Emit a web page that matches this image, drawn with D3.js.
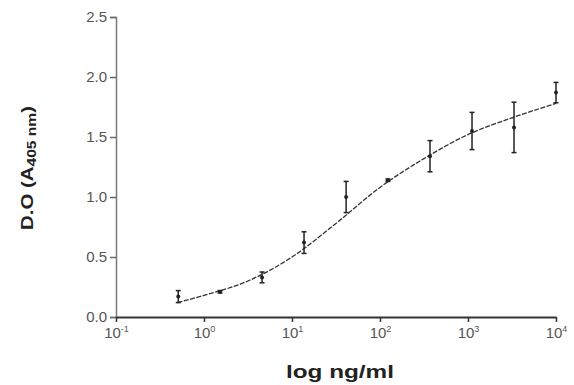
<!DOCTYPE html>
<html>
<head>
<meta charset="UTF-8">
<script src="https://d3js.org/d3.v7.min.js"></script>
<style>
  body { margin: 0; background: #fff; font-family: "Liberation Sans", Arial, sans-serif; }
  .tick text { fill: #555; font-size: 15px; font-family: "Liberation Sans", Arial, sans-serif; }
  .title { font-weight: bold; fill: #222; }
</style>
</head>
<body>
<svg width="574" height="385"></svg>
<script>
// concentrations (ng/ml), 3-fold dilutions
const conc = [0.51, 1.52, 4.57, 13.7, 41.2, 123, 370, 1111, 3333, 10000];
const od   = [0.17, 0.21, 0.33, 0.62, 1.00, 1.14, 1.34, 1.55, 1.58, 1.87];
const err  = [0.05, 0.01, 0.045, 0.09, 0.13, 0.01, 0.13, 0.155, 0.21, 0.085];
// fitted curve
const fitX = [0.5, 1, 3.16, 10, 31.6, 100, 316, 1000, 3162, 10000];
const fitY = [0.12, 0.18, 0.30, 0.50, 0.78, 1.08, 1.32, 1.52, 1.66, 1.78];
const xTicks = [-1, 0, 1, 2, 3, 4];
const yTicks = [0, 0.5, 1.0, 1.5, 2.0, 2.5];

const svg = d3.select("svg");
const x = d3.scaleLog().domain([0.1, 10000]).range([116, 556]);
const y = d3.scaleLinear().domain([0, 2.5]).range([317, 17]);

// y axis
const gy = svg.append("g").attr("transform", "translate(116,0)")
  .call(d3.axisLeft(y).tickValues(yTicks).tickFormat(d3.format(".1f")).tickSize(6).tickPadding(3));
gy.select(".domain").attr("stroke", "#777").attr("stroke-width", 1.5);
gy.selectAll(".tick line").attr("stroke", "#666").attr("stroke-width", 1.5);

// x axis
const gx = svg.append("g").attr("transform", "translate(0,317)")
  .call(d3.axisBottom(x).tickValues(xTicks.map(e => Math.pow(10, e))).tickFormat("").tickSize(5).tickSizeOuter(0));
gx.select(".domain").attr("stroke", "#333").attr("stroke-width", 2);
gx.selectAll(".tick line").attr("stroke", "#333").attr("stroke-width", 1.5);
gx.selectAll(".tick").append("text")
  .attr("y", 21).attr("text-anchor", "middle").attr("fill", "#555")
  .each(function(d) {
    const t = d3.select(this);
    t.append("tspan").text("10");
    t.append("tspan").attr("dy", -6).attr("font-size", "9px").text(Math.round(Math.log10(d)));
  });

// fit curve
const line = d3.line().x((d, i) => x(fitX[i])).y(d => y(d)).curve(d3.curveMonotoneX);
svg.append("path").datum(fitY).attr("d", line)
  .attr("fill", "none").attr("stroke", "#333").attr("stroke-width", 1.3)
  .attr("stroke-dasharray", "5,1.5");

// error bars
const g = svg.append("g").attr("stroke", "#222").attr("stroke-width", 1.5);
conc.forEach((c, i) => {
  const cx = x(c);
  g.append("line").attr("x1", cx).attr("x2", cx).attr("y1", y(od[i] - err[i])).attr("y2", y(od[i] + err[i]));
  g.append("line").attr("x1", cx - 2.5).attr("x2", cx + 2.5).attr("y1", y(od[i] - err[i])).attr("y2", y(od[i] - err[i]));
  g.append("line").attr("x1", cx - 2.5).attr("x2", cx + 2.5).attr("y1", y(od[i] + err[i])).attr("y2", y(od[i] + err[i]));
});
svg.append("g").selectAll("circle").data(conc).join("circle")
  .attr("cx", d => x(d)).attr("cy", (d, i) => y(od[i])).attr("r", 2).attr("fill", "#222");

// titles
svg.append("text").attr("class", "title")
  .attr("transform", "translate(340,378) scale(1.35,1)")
  .attr("text-anchor", "middle").attr("font-size", "18px")
  .text("log ng/ml");
const yt = svg.append("text").attr("class", "title")
  .attr("transform", "translate(33,168) rotate(-90) scale(1.2,1)")
  .attr("text-anchor", "middle").attr("font-size", "17px");
yt.append("tspan").text("D.O (A");
yt.append("tspan").attr("font-size", "13px").attr("dy", 3).text("405 nm");
yt.append("tspan").attr("dy", -3).text(")");
</script>
</body>
</html>
